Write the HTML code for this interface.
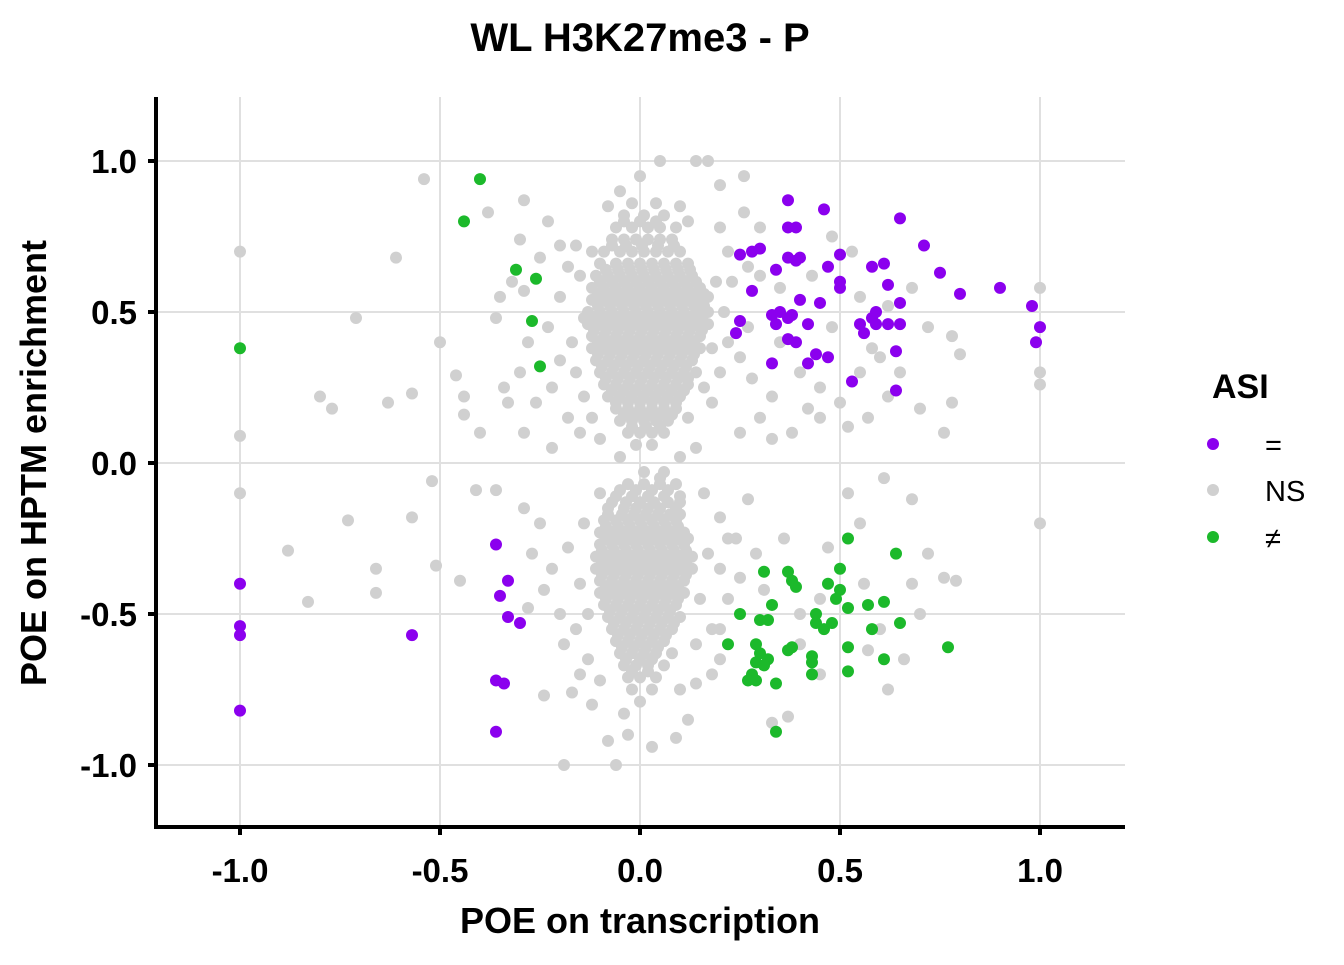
<!DOCTYPE html>
<html><head><meta charset="utf-8"><style>
body{margin:0;background:#fff;width:1344px;height:960px;overflow:hidden}
svg{font-family:"Liberation Sans",sans-serif}
</style></head><body>
<svg id="chart" width="1344" height="960" viewBox="0 0 1344 960" xmlns="http://www.w3.org/2000/svg">
<text x="640" y="51" text-anchor="middle" font-size="40" font-weight="bold">WL H3K27me3 - P</text>
<g id="grid"></g>
<g id="gray"></g>
<g id="colored"></g>
<g id="axes"></g>
<text x="640" y="933" text-anchor="middle" font-size="36" font-weight="bold">POE on transcription</text>
<text transform="translate(46,463) rotate(-90)" text-anchor="middle" font-size="36" font-weight="bold">POE on HPTM enrichment</text>
<g>
<text x="1212" y="398" font-size="34" font-weight="bold">ASI</text>
<circle cx="1213" cy="444" r="6" fill="#8b00ee"/>
<text x="1265" y="455" font-size="29">=</text>
<circle cx="1213" cy="490" r="6" fill="#d0d0d0"/>
<text x="1265" y="501" font-size="29">NS</text>
<circle cx="1213" cy="537" r="6" fill="#1cb92b"/>
<text x="1265" y="548" font-size="29">≠</text>
</g>
</svg>
<script>
const xTicks=[-1,-0.5,0,0.5,1];
const yTicks=[-1,-0.5,0,0.5,1];
const xTickLabels=["-1.0","-0.5","0.0","0.5","1.0"];
const yTickLabels=["-1.0","-0.5","0.0","0.5","1.0"];
const purplePts=[[0.37,0.87],[0.46,0.84],[0.65,0.81],[0.39,0.78],[0.37,0.78],[0.28,0.70],[0.30,0.71],[0.25,0.69],[0.37,0.68],[0.40,0.68],[0.39,0.67],[0.50,0.69],[0.71,0.72],[0.34,0.64],[0.47,0.65],[0.58,0.65],[0.61,0.66],[0.75,0.63],[0.50,0.60],[0.50,0.58],[0.62,0.59],[0.28,0.57],[0.90,0.58],[0.80,0.56],[0.65,0.53],[0.40,0.54],[0.45,0.53],[0.98,0.52],[1.0,0.45],[0.99,0.40],[0.33,0.49],[0.35,0.50],[0.37,0.48],[0.34,0.46],[0.42,0.46],[0.25,0.47],[0.38,0.49],[0.55,0.46],[0.58,0.48],[0.59,0.50],[0.59,0.46],[0.62,0.46],[0.65,0.46],[0.56,0.43],[0.24,0.43],[0.37,0.41],[0.39,0.40],[0.44,0.36],[0.47,0.35],[0.42,0.33],[0.33,0.33],[0.64,0.37],[0.53,0.27],[0.64,0.24],[-1,-0.40],[-1,-0.54],[-1,-0.57],[-1,-0.82],[-0.57,-0.57],[-0.36,-0.27],[-0.33,-0.39],[-0.35,-0.44],[-0.33,-0.51],[-0.30,-0.53],[-0.36,-0.72],[-0.34,-0.73],[-0.36,-0.89]];
const greenPts=[[-0.40,0.94],[-0.44,0.80],[-0.31,0.64],[-0.26,0.61],[-0.27,0.47],[-0.25,0.32],[-1,0.38],[0.52,-0.25],[0.64,-0.30],[0.31,-0.36],[0.37,-0.36],[0.50,-0.35],[0.38,-0.39],[0.39,-0.41],[0.47,-0.40],[0.50,-0.42],[0.49,-0.45],[0.25,-0.50],[0.30,-0.52],[0.32,-0.52],[0.33,-0.47],[0.44,-0.50],[0.44,-0.53],[0.46,-0.55],[0.48,-0.53],[0.52,-0.48],[0.57,-0.47],[0.61,-0.46],[0.65,-0.53],[0.58,-0.55],[0.22,-0.60],[0.29,-0.60],[0.30,-0.63],[0.32,-0.65],[0.29,-0.66],[0.31,-0.67],[0.28,-0.70],[0.27,-0.72],[0.29,-0.72],[0.34,-0.73],[0.37,-0.62],[0.38,-0.61],[0.43,-0.64],[0.43,-0.66],[0.43,-0.70],[0.52,-0.61],[0.52,-0.69],[0.61,-0.65],[0.77,-0.61],[0.34,-0.89]];
const graySparse=[[-1,0.70],[-1,0.09],[-1,-0.10],[1,0.58],[1,0.30],[1,0.26],[1,-0.20],[-0.54,0.94],[-0.61,0.68],[-0.71,0.48],[-0.80,0.22],[-0.77,0.18],[-0.63,0.20],[-0.57,0.23],[-0.50,0.40],[-0.46,0.29],[-0.44,0.22],[-0.44,0.16],[-0.38,0.83],[-0.29,0.87],[-0.23,0.80],[-0.30,0.74],[-0.36,0.48],[-0.35,0.55],[-0.32,0.60],[-0.29,0.57],[-0.34,0.25],[-0.33,0.20],[-0.30,0.30],[-0.28,0.40],[-0.26,0.20],[-0.22,0.25],[-0.20,0.34],[-0.23,0.45],[-0.20,0.55],[-0.18,0.65],[-0.16,0.72],[-0.15,0.62],[-0.12,0.70],[-0.18,0.15],[-0.15,0.10],[-0.22,0.05],[-0.14,0.22],[-0.10,0.08],[-0.40,0.10],[-0.29,0.10],[-0.88,-0.29],[-0.83,-0.46],[-0.73,-0.19],[-0.66,-0.35],[-0.66,-0.43],[-0.57,-0.18],[-0.51,-0.34],[-0.52,-0.06],[-0.45,-0.39],[-0.41,-0.09],[-0.36,-0.09],[-0.29,-0.15],[-0.25,-0.20],[-0.27,-0.30],[-0.28,-0.48],[-0.24,-0.42],[-0.20,-0.50],[-0.22,-0.35],[-0.18,-0.28],[-0.19,-0.60],[-0.15,-0.70],[-0.17,-0.76],[-0.24,-0.77],[-0.12,-0.80],[-0.13,-0.65],[-0.19,-1.0],[-0.06,-1.0],[-0.08,-0.92],[-0.03,-0.90],[0.03,-0.94],[0.09,-0.91],[0.14,-0.73],[0.18,-0.70],[0.20,-0.65],[0.20,-0.55],[0.22,-0.45],[0.25,-0.38],[0.24,-0.25],[0.20,-0.18],[0.16,-0.10],[0.27,-0.12],[0.29,-0.30],[0.31,-0.42],[0.36,-0.25],[0.40,-0.50],[0.45,-0.45],[0.47,-0.28],[0.52,-0.10],[0.56,-0.40],[0.60,-0.55],[0.62,-0.75],[0.66,-0.65],[0.68,-0.40],[0.70,-0.50],[0.72,-0.30],[0.76,-0.38],[0.79,-0.39],[0.68,-0.12],[0.61,-0.05],[0.55,-0.20],[0.40,-0.60],[0.37,-0.84],[0.33,-0.86],[0.45,-0.70],[0.57,-0.62],[0.05,1.0],[0.14,1.0],[0.17,1.0],[0.26,0.95],[0.20,0.92],[0.26,0.83],[0.30,0.78],[0.20,0.78],[0.22,0.70],[0.30,0.62],[0.35,0.58],[0.43,0.62],[0.48,0.75],[0.53,0.70],[0.55,0.55],[0.62,0.52],[0.68,0.58],[0.72,0.45],[0.78,0.42],[0.80,0.36],[0.65,0.30],[0.60,0.35],[0.55,0.30],[0.50,0.20],[0.45,0.25],[0.40,0.30],[0.33,0.22],[0.30,0.15],[0.28,0.28],[0.25,0.35],[0.22,0.40],[0.20,0.30],[0.18,0.20],[0.17,0.55],[0.15,0.45],[0.27,0.45],[0.35,0.40],[0.45,0.15],[0.52,0.12],[0.57,0.15],[0.62,0.22],[0.70,0.18],[0.76,0.10],[0.78,0.20],[0.58,0.38],[0.48,0.45],[0.42,0.18],[0.38,0.10],[0.33,0.08],[0.25,0.10],[0.10,0.85],[0.12,0.80],[0.00,0.95],[-0.05,0.90],[-0.08,0.85],[0.12,0.15],[0.14,0.05],[-0.05,0.02],[0.10,0.02],[-0.17,0.40],[-0.14,0.48],[-0.16,0.30],[-0.12,0.15],[0.19,0.60],[0.21,0.50],[0.18,0.38],[0.16,0.25],[-0.25,0.68],[-0.20,0.72],[0.23,0.60],[0.27,0.65],[-0.15,-0.40],[-0.13,-0.50],[-0.14,-0.20],[-0.16,-0.55],[0.17,-0.30],[0.15,-0.45],[0.18,-0.55],[0.14,-0.60],[-0.10,-0.72],[0.10,-0.75],[0.12,-0.85],[-0.04,-0.83],[0.05,-0.05],[-0.10,-0.10],[0.20,-0.35],[0.22,-0.25]];
const grayRowsY=[0.86,0.82,0.78,0.74,0.70,0.66,0.62,0.58,0.54,0.50,0.46,0.42,0.38,0.34,0.30,0.26,0.22,0.18,0.14,0.10,0.06,-0.03,-0.07,-0.11,-0.15,-0.19,-0.23,-0.27,-0.31,-0.35,-0.39,-0.43,-0.47,-0.51,-0.55,-0.59,-0.63,-0.67,-0.71,-0.75,-0.79];
const grayRowsX=[
[-0.02,0.04],
[-0.04,0.01,0.06],
[-0.06,-0.02,0.02,0.05,0.09],
[-0.07,-0.04,-0.01,0.02,0.05,0.08],
[-0.09,-0.05,-0.02,0.01,0.04,0.07,0.10],
[-0.10,-0.06,-0.03,0,0.03,0.06,0.09,0.12],
[-0.11,-0.08,-0.05,-0.02,0.01,0.04,0.07,0.10,0.13],
[-0.12,-0.09,-0.06,-0.03,0,0.03,0.06,0.09,0.12,0.15],
[-0.12,-0.09,-0.06,-0.03,0,0.03,0.06,0.09,0.12,0.15],
[-0.13,-0.10,-0.07,-0.04,-0.01,0.02,0.05,0.08,0.11,0.14,0.17],
[-0.13,-0.10,-0.07,-0.04,-0.01,0.02,0.05,0.08,0.11,0.14,0.17],
[-0.12,-0.09,-0.06,-0.03,0,0.03,0.06,0.09,0.12,0.15],
[-0.12,-0.09,-0.06,-0.03,0,0.03,0.06,0.09,0.12,0.15],
[-0.11,-0.08,-0.05,-0.02,0.01,0.04,0.07,0.10,0.13],
[-0.10,-0.07,-0.04,-0.01,0.02,0.05,0.08,0.11,0.14],
[-0.09,-0.06,-0.03,0,0.03,0.06,0.09,0.12],
[-0.08,-0.05,-0.02,0.01,0.04,0.07,0.10],
[-0.06,-0.03,0,0.03,0.06,0.09],
[-0.05,-0.02,0.01,0.04,0.07],
[-0.03,0,0.03,0.06],
[-0.01,0.03],
[0.01,0.06],
[-0.03,0.01,0.05,0.09],
[-0.06,-0.02,0.02,0.06,0.10],
[-0.08,-0.04,-0.01,0.02,0.05,0.09],
[-0.09,-0.06,-0.03,0,0.03,0.06,0.09],
[-0.10,-0.07,-0.04,-0.01,0.02,0.05,0.08,0.11],
[-0.10,-0.07,-0.04,-0.01,0.02,0.05,0.08,0.11],
[-0.11,-0.08,-0.05,-0.02,0.01,0.04,0.07,0.10,0.13],
[-0.11,-0.08,-0.05,-0.02,0.01,0.04,0.07,0.10,0.13],
[-0.10,-0.07,-0.04,-0.01,0.02,0.05,0.08,0.11],
[-0.10,-0.07,-0.04,-0.01,0.02,0.05,0.08,0.11],
[-0.09,-0.06,-0.03,0,0.03,0.06,0.09],
[-0.08,-0.05,-0.02,0.01,0.04,0.07,0.10],
[-0.07,-0.04,-0.01,0.02,0.05,0.08],
[-0.06,-0.03,0,0.03,0.06],
[-0.05,-0.02,0.01,0.04,0.08],
[-0.04,-0.01,0.02,0.06],
[-0.03,0,0.04],
[-0.02,0.03],
[0.00]
];
const grayCoreY=[0.80,0.72,0.64,0.60,0.56,0.52,0.48,0.44,0.40,0.36,0.32,0.28,0.24,0.20,0.16,0.12,-0.09,-0.13,-0.17,-0.21,-0.25,-0.29,-0.33,-0.37,-0.41,-0.45,-0.49,-0.53,-0.57,-0.61,-0.65,-0.69];
const grayCoreX=[
[-0.04,0.0,0.04],
[-0.07,-0.035,0.005,0.045,0.085],
[-0.085,-0.055,-0.025,0.005,0.035,0.065,0.095,0.125],
[-0.10,-0.07,-0.04,-0.01,0.02,0.05,0.08,0.11,0.14],
[-0.105,-0.075,-0.045,-0.015,0.015,0.045,0.075,0.105,0.135,0.16],
[-0.105,-0.075,-0.045,-0.015,0.015,0.045,0.075,0.105,0.135,0.16],
[-0.115,-0.085,-0.055,-0.025,0.005,0.035,0.065,0.095,0.125,0.155],
[-0.115,-0.085,-0.055,-0.025,0.005,0.035,0.065,0.095,0.125,0.155],
[-0.105,-0.075,-0.045,-0.015,0.015,0.045,0.075,0.105,0.135],
[-0.105,-0.075,-0.045,-0.015,0.015,0.045,0.075,0.105,0.135],
[-0.095,-0.065,-0.035,-0.005,0.025,0.055,0.085,0.115],
[-0.085,-0.055,-0.025,0.005,0.035,0.065,0.095,0.12],
[-0.07,-0.04,-0.01,0.02,0.05,0.08,0.11],
[-0.06,-0.03,0.0,0.03,0.06,0.09],
[-0.04,-0.01,0.02,0.05,0.08],
[-0.02,0.015,0.05],
[-0.05,-0.01,0.03,0.07],
[-0.07,-0.035,0.0,0.035,0.07,0.10],
[-0.08,-0.045,-0.015,0.015,0.045,0.075,0.10],
[-0.085,-0.055,-0.025,0.005,0.035,0.065,0.095],
[-0.085,-0.055,-0.025,0.005,0.035,0.065,0.095,0.12],
[-0.095,-0.065,-0.035,-0.005,0.025,0.055,0.085,0.115],
[-0.095,-0.065,-0.035,-0.005,0.025,0.055,0.085,0.115],
[-0.095,-0.065,-0.035,-0.005,0.025,0.055,0.085,0.115],
[-0.085,-0.055,-0.025,0.005,0.035,0.065,0.095],
[-0.085,-0.055,-0.025,0.005,0.035,0.065,0.095],
[-0.075,-0.045,-0.015,0.015,0.045,0.075],
[-0.065,-0.035,-0.005,0.025,0.055,0.085],
[-0.055,-0.025,0.005,0.035,0.065],
[-0.045,-0.015,0.015,0.045],
[-0.035,0.0,0.03],
[-0.02,0.02]
];
const NS='http://www.w3.org/2000/svg';
const X0=156,X1=1125,Y0=97,Y1=827;
function sx(v){return 640+v*400;}
function sy(v){return 463-v*302;}
const grid=document.getElementById('grid');
function line(g,x1,y1,x2,y2,stroke,w,name){const l=document.createElementNS(NS,'line');l.setAttribute('x1',x1);l.setAttribute('y1',y1);l.setAttribute('x2',x2);l.setAttribute('y2',y2);l.setAttribute('stroke',stroke);l.setAttribute('stroke-width',w);


g.appendChild(l);}
xTicks.forEach(t=>line(grid,sx(t),Y0,sx(t),Y1,'#e0e0e0',2,'x-gridline'));
yTicks.forEach(t=>line(grid,X0,sy(t),X1,sy(t),'#e0e0e0',2,'y-gridline'));
function dot(g,v,fill,name){const c=document.createElementNS(NS,'circle');c.setAttribute('cx',sx(v[0]));c.setAttribute('cy',sy(v[1]));c.setAttribute('r',6);c.setAttribute('fill',fill);


g.appendChild(c);}
const gg=document.getElementById('gray');
graySparse.forEach(p=>dot(gg,p,'#d0d0d0','ns-point'));
grayRowsY.forEach((y,i)=>grayRowsX[i].forEach(x=>dot(gg,[x,y],'#d0d0d0','ns-point')));
grayCoreY.forEach((y,i)=>grayCoreX[i].forEach(x=>dot(gg,[x,y],'#d0d0d0','ns-point')));
const cg=document.getElementById('colored');
purplePts.forEach(p=>dot(cg,p,'#8b00ee','equal-point'));
greenPts.forEach(p=>dot(cg,p,'#1cb92b','neq-point'));
const ax=document.getElementById('axes');
line(ax,X0,Y0,X0,Y1+2,'#000',4,'y-axis-line');
line(ax,X0-2,Y1,X1,Y1,'#000',4,'x-axis-line');
function txt(g,x,y,s,anchor,name){const t=document.createElementNS(NS,'text');t.setAttribute('x',x);t.setAttribute('y',y);t.setAttribute('text-anchor',anchor);t.setAttribute('font-size','33');t.setAttribute('font-weight','bold');t.textContent=s;


g.appendChild(t);}
xTicks.forEach((t,i)=>{line(ax,sx(t),Y1,sx(t),Y1+8,'#000',4,'x-tick');txt(ax,sx(t),882,xTickLabels[i],'middle','x-tick-label');});
yTicks.forEach((t,i)=>{line(ax,X0-8,sy(t),X0,sy(t),'#000',4,'y-tick');txt(ax,X0-19,sy(t)+12,yTickLabels[i],'end','y-tick-label');});
</script>
</body></html>
